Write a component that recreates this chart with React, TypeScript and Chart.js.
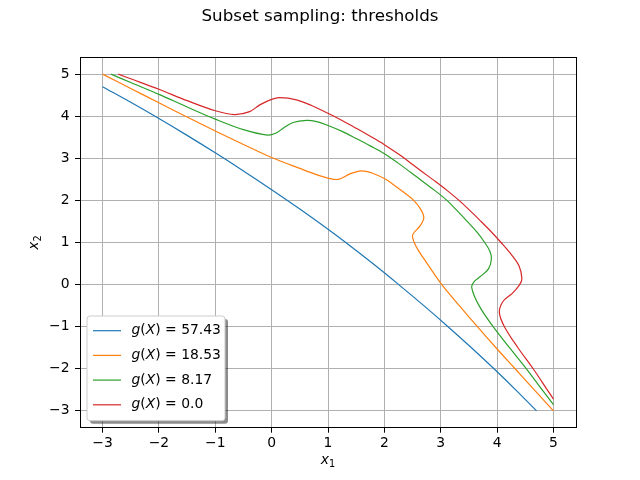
import React, { useEffect, useRef } from 'react';
import { Chart, registerables } from 'chart.js';

Chart.register(...registerables);

const TITLE = 'Subset sampling: thresholds';
const X_LABEL = ['x', '1'];
const Y_LABEL = ['x', '2'];
const X_TICKS = [-3, -2, -1, 0, 1, 2, 3, 4, 5];
const Y_TICKS = [-3, -2, -1, 0, 1, 2, 3, 4, 5];
const AXIS_MIN = -3.4;
const AXIS_MAX = 5.4;
const LEVELS = ['57.43', '18.53', '8.17', '0.0'];
const COLORS = ['#1f77b4', '#ff7f0e', '#2ca02c', '#d62728'];

const CURVE_57 = [
  [-3, 4.7], [-2.5, 4.33], [-2, 3.945], [-1.5, 3.545], [-1, 3.13], [-0.5, 2.7], [0, 2.255],
  [0.5, 1.795], [1, 1.315], [1.315, 1], [1.795, 0.5], [2.255, 0], [2.7, -0.5],
  [3.13, -1], [3.545, -1.5], [3.945, -2], [4.33, -2.5], [4.7, -3],
];

const CURVE_18 = [
  [-3, 5], [-2.5, 4.66], [-2, 4.32], [-1.5, 3.98], [-1, 3.65], [-0.5, 3.33], [0, 3.02],
  [0.5, 2.76], [0.82, 2.6], [1.0, 2.53], [1.18, 2.5], [1.39, 2.63], [1.59, 2.7], [1.8, 2.64],
  [2.0, 2.52], [2.15, 2.385], [2.385, 2.15], [2.52, 2.0], [2.64, 1.8], [2.7, 1.59],
  [2.63, 1.39], [2.5, 1.18], [2.53, 1.0], [2.6, 0.82], [2.76, 0.5], [3.02, 0], [3.33, -0.5],
  [3.65, -1], [3.98, -1.5], [4.32, -2], [4.66, -2.5], [5, -3],
];

const CURVE_8 = [
  [-2.85, 5], [-2.5, 4.8], [-2, 4.52], [-1.5, 4.22], [-1, 3.93], [-0.5, 3.68], [-0.07, 3.55],
  [0.08, 3.6], [0.2, 3.71], [0.38, 3.85], [0.62, 3.9], [0.8, 3.87], [1, 3.78], [1.25, 3.64],
  [1.5, 3.47], [1.75, 3.295], [2, 3.11], [2.25, 2.88], [2.566, 2.566], [2.88, 2.25], [3.11, 2],
  [3.295, 1.75], [3.47, 1.5], [3.64, 1.25], [3.78, 1], [3.87, 0.8], [3.9, 0.62], [3.85, 0.38],
  [3.71, 0.2], [3.6, 0.08], [3.55, -0.07], [3.68, -0.5], [3.93, -1], [4.22, -1.5], [4.52, -2],
  [4.8, -2.5], [5, -2.85],
];

const CURVE_0 = [
  [-2.72, 5], [-2.5, 4.89], [-2, 4.64], [-1.5, 4.37], [-1, 4.13], [-0.66, 4.04], [-0.39, 4.11],
  [-0.21, 4.27], [0, 4.4], [0.14, 4.44], [0.44, 4.39], [0.7, 4.26], [1, 4.07], [1.25, 3.9],
  [1.5, 3.715], [1.75, 3.525], [2, 3.325], [2.25, 3.1], [2.5, 2.855], [2.677, 2.677],
  [2.855, 2.5], [3.1, 2.25], [3.325, 2], [3.525, 1.75], [3.715, 1.5], [3.9, 1.25], [4.07, 1],
  [4.26, 0.7], [4.39, 0.44], [4.44, 0.14], [4.4, 0], [4.27, -0.21], [4.11, -0.39],
  [4.04, -0.66], [4.13, -1], [4.37, -1.5], [4.64, -2], [4.89, -2.5], [5, -2.72],
];

const CURVES = [CURVE_57, CURVE_18, CURVE_8, CURVE_0];

const FONT = '"DejaVu Sans", "Liberation Sans", sans-serif';
const FS = 13.9;

function drawMathLabel(ctx: CanvasRenderingContext2D, x: number, y: number, value: string) {
  const it = `italic ${FS}px ${FONT}`;
  const rm = `${FS}px ${FONT}`;
  const parts: [string, string][] = [['g', it], ['(', rm], ['X', it], [')', rm], [' = ' + value, rm]];
  let cx = x;
  ctx.textBaseline = 'middle';
  ctx.textAlign = 'left';
  ctx.fillStyle = '#000';
  for (const [t, f] of parts) {
    ctx.font = f;
    ctx.fillText(t, cx, y);
    cx += ctx.measureText(t).width;
  }
}

function drawSubLabel(ctx: CanvasRenderingContext2D, cx: number, cy: number, parts: string[]) {
  const main = `italic ${FS}px ${FONT}`;
  const sub = `${FS * 0.7}px ${FONT}`;
  ctx.font = main;
  const w1 = ctx.measureText(parts[0]).width;
  ctx.font = sub;
  const w2 = ctx.measureText(parts[1]).width;
  const start = cx - (w1 + w2) / 2;
  ctx.textBaseline = 'middle';
  ctx.textAlign = 'left';
  ctx.fillStyle = '#000';
  ctx.font = main;
  ctx.fillText(parts[0], start, cy - 1);
  ctx.font = sub;
  ctx.fillText(parts[1], start + w1, cy + 3);
}

const decorPlugin = {
  id: 'decor',
  afterDraw(chart: any) {
    const ctx: CanvasRenderingContext2D = chart.ctx;
    const a = chart.chartArea;
    ctx.save();
    ctx.strokeStyle = '#000';
    ctx.lineWidth = 1;
    ctx.strokeRect(Math.round(a.left) + 0.5, Math.round(a.top) + 0.5, Math.round(a.right - a.left), Math.round(a.bottom - a.top));
    ctx.font = `16.7px ${FONT}`;
    ctx.fillStyle = '#000';
    ctx.textAlign = 'center';
    ctx.textBaseline = 'middle';
    ctx.fillText(TITLE, 320, 16.5);
    drawSubLabel(ctx, (a.left + a.right) / 2, 461.5, X_LABEL);
    ctx.save();
    ctx.translate(35, (a.top + a.bottom) / 2);
    ctx.rotate(-Math.PI / 2);
    drawSubLabel(ctx, 0, 0, Y_LABEL);
    ctx.restore();
    const lx = a.left + 7;
    const ly = 316;
    const lw = 138;
    const lh = a.bottom - 7 - ly;
    const r = 3;
    const rr = (x: number, y: number, w: number, h: number) => {
      ctx.beginPath();
      ctx.moveTo(x + r, y);
      ctx.lineTo(x + w - r, y);
      ctx.quadraticCurveTo(x + w, y, x + w, y + r);
      ctx.lineTo(x + w, y + h - r);
      ctx.quadraticCurveTo(x + w, y + h, x + w - r, y + h);
      ctx.lineTo(x + r, y + h);
      ctx.quadraticCurveTo(x, y + h, x, y + h - r);
      ctx.lineTo(x, y + r);
      ctx.quadraticCurveTo(x, y, x + r, y);
      ctx.closePath();
    };
    rr(lx + 3, ly + 3, lw, lh);
    ctx.fillStyle = 'rgba(0,0,0,0.45)';
    ctx.fill();
    rr(lx, ly, lw, lh);
    ctx.fillStyle = '#fff';
    ctx.fill();
    ctx.strokeStyle = '#cccccc';
    ctx.lineWidth = 1;
    ctx.stroke();
    chart.data.datasets.forEach((ds: any, i: number) => {
      const ey = 330.7 + i * 24.7;
      ctx.strokeStyle = ds.borderColor;
      ctx.lineWidth = 1.2;
      ctx.beginPath();
      ctx.moveTo(lx + 6, ey);
      ctx.lineTo(lx + 34, ey);
      ctx.stroke();
      drawMathLabel(ctx, lx + 44.5, ey, LEVELS[i]);
    });
    ctx.restore();
  },
};

export default function App() {
  const ref = useRef<HTMLCanvasElement | null>(null);
  useEffect(() => {
    if (!ref.current) return;
    const datasets = CURVES.map((c, i) => ({
      label: LEVELS[i],
      data: c.map(([x, y]) => ({ x, y })),
      borderColor: COLORS[i],
      backgroundColor: COLORS[i],
      borderWidth: 1.2,
      pointRadius: 0,
      showLine: true,
      tension: 0.35,
      fill: false,
      order: CURVES.length - i,
    }));
    const tickFmt = (v: any) => String(v).replace('-', '\u2212');
    const chart = new Chart(ref.current, {
      type: 'scatter',
      data: { datasets },
      plugins: [decorPlugin],
      options: {
        animation: false,
        responsive: false,
        devicePixelRatio: 1,
        layout: { padding: { left: 0, right: 64, top: 57.3, bottom: 0 } },
        plugins: { legend: { display: false }, tooltip: { enabled: false }, title: { display: false } },
        scales: {
          x: {
            type: 'linear',
            min: AXIS_MIN,
            max: AXIS_MAX,
            afterBuildTicks: (s: any) => { s.ticks = X_TICKS.map((v) => ({ value: v })); },
            afterFit: (s: any) => { s.height = 480 - 427.7; },
            ticks: { color: '#000', font: { family: FONT, size: FS }, padding: 2.5, callback: tickFmt, maxRotation: 0 },
            grid: { color: '#b0b0b0', lineWidth: 1, tickColor: '#000', tickLength: 5 },
            border: { color: '#000', width: 1 },
            title: { display: false },
          },
          y: {
            type: 'linear',
            min: AXIS_MIN,
            max: AXIS_MAX,
            afterBuildTicks: (s: any) => { s.ticks = Y_TICKS.map((v) => ({ value: v })); },
            afterFit: (s: any) => { s.width = 80; },
            ticks: { color: '#000', font: { family: FONT, size: FS }, padding: 5.5, callback: tickFmt },
            grid: { color: '#b0b0b0', lineWidth: 1, tickColor: '#000', tickLength: 5 },
            border: { color: '#000', width: 1 },
            title: { display: false },
          },
        },
      },
    } as any);
    return () => chart.destroy();
  }, []);
  return (
    <div style={{ position: 'fixed', left: 0, top: 0, width: 640, height: 480, background: '#fff' }}>
      <canvas ref={ref} width={640} height={480} />
    </div>
  );
}
